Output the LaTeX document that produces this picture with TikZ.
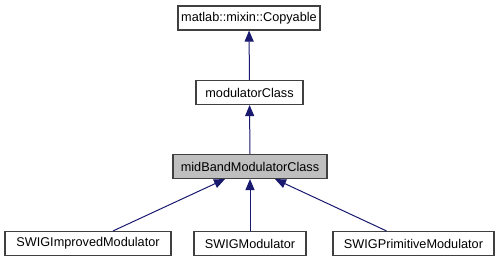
\documentclass[tikz,border=0pt]{standalone}
\usepackage{fontspec}
\setmainfont{Liberation Sans}
\usetikzlibrary{arrows.meta}

\definecolor{edgeblue}{HTML}{191970}
\definecolor{boxline}{HTML}{404040}
\definecolor{curfill}{HTML}{BFBFBF}

\tikzset{
  cls/.style={draw=boxline, line width=1.1pt, fill=white, minimum height=24pt,
    inner sep=0pt, font=\fontsize{12.7}{14}\selectfont},
  current/.style={cls, fill=curfill},
  inherit/.style={draw=edgeblue, line width=1pt,
    -{Triangle[length=11pt,width=9pt]}},
}

\begin{document}
\begin{tikzpicture}[x=1pt,y=-1pt]
\useasboundingbox (0,0) rectangle (501,261);

% class hierarchy
\node[cls, minimum width=142] (copyable) at (249,18) {matlab::mixin::Copyable};
\node[cls, minimum width=107] (modcls) at (249.5,92.5) {modulatorClass};
\node[current, minimum width=154] (midband) at (250,166.5) {midBandModulatorClass};
\node[cls, minimum width=166] (improved) at (88,243.5) {SWIGImprovedModulator};
\node[cls, minimum width=112] (swigmod) at (250,243.5) {SWIGModulator};
\node[cls, minimum width=161] (primitive) at (413.5,243.5) {SWIGPrimitiveModulator};

% inheritance arrows
\draw[inherit] (modcls) -- (copyable);
\draw[inherit] (midband) -- (modcls);
\draw[inherit] ([xshift=25pt]improved.north) -- ([xshift=-25pt]midband.south);
\draw[inherit] (swigmod) -- (midband);
\draw[inherit] ([xshift=-27pt]primitive.north) -- ([xshift=25pt]midband.south);
\end{tikzpicture}
\end{document}
